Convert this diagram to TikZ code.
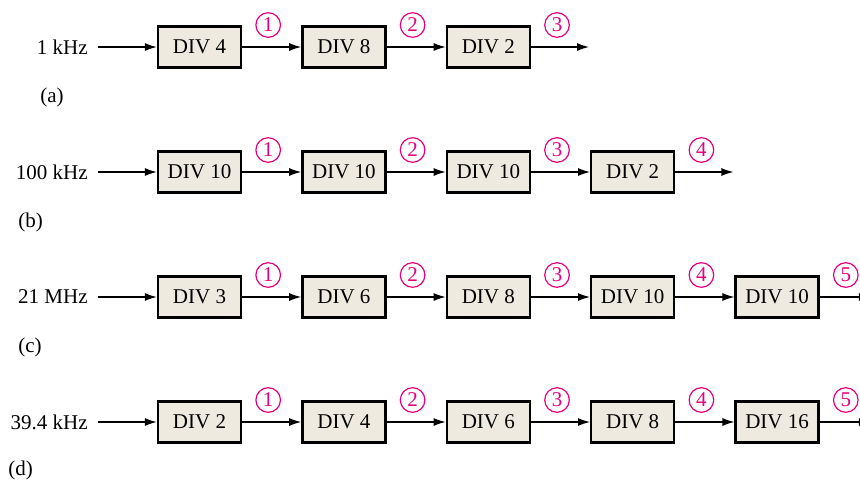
\documentclass[tikz,border=0pt]{standalone}
\usepackage{fontspec}
\setmainfont{Liberation Serif}
\usepackage{tikz}
\usetikzlibrary{arrows.meta, positioning}
\definecolor{boxfill}{RGB}{238,234,224}
\definecolor{nummag}{RGB}{230,0,126}

\begin{document}
\begin{tikzpicture}[
x=0.5pt, y=-0.5pt,
node distance=29.5pt,
font=\fontsize{10.5}{12}\selectfont,
divbox/.style={rectangle, draw, line width=1.2pt, fill=boxfill, minimum width=41.5pt, minimum height=20.5pt, inner sep=0pt},
freq/.style={anchor=east, inner sep=5pt},
partlabel/.style={anchor=west, inner sep=0pt},
num/.style={circle, draw=nummag, text=nummag, line width=0.6pt, minimum size=12.3pt, inner sep=0pt},
arrow/.style={-{Latex[length=6pt,width=4pt]}, line width=0.6pt}
]
\useasboundingbox (0,0) rectangle (860,483);
\clip (0,0) rectangle (860,483);

% (a)
\node[freq] (ina) at (98,47) {1 kHz};
\node[divbox] (a1) at (199.5,47) {DIV 4};
\node[divbox, right=of a1] (a2) {DIV 8};
\node[divbox, right=of a2] (a3) {DIV 2};
\coordinate (aend) at ([xshift=29pt]a3.east);
\node[num] (na1) at ([xshift=13pt,yshift=11pt]a1.east) {1};
\node[num] (na2) at ([xshift=13pt,yshift=11pt]a2.east) {2};
\node[num] (na3) at ([xshift=13pt,yshift=11pt]a3.east) {3};
\node[partlabel] (laba) at (40,97) {(a)};

% (b)
\node[freq] (inb) at (98,172) {100 kHz};
\node[divbox] (b1) at (199.5,172) {DIV 10};
\node[divbox, right=of b1] (b2) {DIV 10};
\node[divbox, right=of b2] (b3) {DIV 10};
\node[divbox, right=of b3] (b4) {DIV 2};
\coordinate (bend) at ([xshift=29pt]b4.east);
\node[num] (nb1) at ([xshift=13pt,yshift=11pt]b1.east) {1};
\node[num] (nb2) at ([xshift=13pt,yshift=11pt]b2.east) {2};
\node[num] (nb3) at ([xshift=13pt,yshift=11pt]b3.east) {3};
\node[num] (nb4) at ([xshift=13pt,yshift=11pt]b4.east) {4};
\node[partlabel] (labb) at (18,222) {(b)};

% (c)
\node[freq] (inc) at (98,297) {21 MHz};
\node[divbox] (c1) at (199.5,297) {DIV 3};
\node[divbox, right=of c1] (c2) {DIV 6};
\node[divbox, right=of c2] (c3) {DIV 8};
\node[divbox, right=of c3] (c4) {DIV 10};
\node[divbox, right=of c4] (c5) {DIV 10};
\coordinate (cend) at ([xshift=25.5pt]c5.east);
\node[num] (nc1) at ([xshift=13pt,yshift=11pt]c1.east) {1};
\node[num] (nc2) at ([xshift=13pt,yshift=11pt]c2.east) {2};
\node[num] (nc3) at ([xshift=13pt,yshift=11pt]c3.east) {3};
\node[num] (nc4) at ([xshift=13pt,yshift=11pt]c4.east) {4};
\node[num] (nc5) at ([xshift=13pt,yshift=11pt]c5.east) {5};
\node[partlabel] (labc) at (18,347) {(c)};

% (d)
\node[freq] (ind) at (98,422) {39.4 kHz};
\node[divbox] (d1) at (199.5,422) {DIV 2};
\node[divbox, right=of d1] (d2) {DIV 4};
\node[divbox, right=of d2] (d3) {DIV 6};
\node[divbox, right=of d3] (d4) {DIV 8};
\node[divbox, right=of d4] (d5) {DIV 16};
\coordinate (dend) at ([xshift=25.5pt]d5.east);
\node[num] (nd1) at ([xshift=13pt,yshift=11pt]d1.east) {1};
\node[num] (nd2) at ([xshift=13pt,yshift=11pt]d2.east) {2};
\node[num] (nd3) at ([xshift=13pt,yshift=11pt]d3.east) {3};
\node[num] (nd4) at ([xshift=13pt,yshift=11pt]d4.east) {4};
\node[num] (nd5) at ([xshift=13pt,yshift=11pt]d5.east) {5};
\node[partlabel] (labd) at (8,470) {(d)};

\draw[arrow] (ina) -- (a1);
\draw[arrow] (a1) -- (a2);
\draw[arrow] (a2) -- (a3);
\draw[arrow] (a3) -- (aend);

\draw[arrow] (inb) -- (b1);
\draw[arrow] (b1) -- (b2);
\draw[arrow] (b2) -- (b3);
\draw[arrow] (b3) -- (b4);
\draw[arrow] (b4) -- (bend);

\draw[arrow] (inc) -- (c1);
\draw[arrow] (c1) -- (c2);
\draw[arrow] (c2) -- (c3);
\draw[arrow] (c3) -- (c4);
\draw[arrow] (c4) -- (c5);
\draw[arrow] (c5) -- (cend);

\draw[arrow] (ind) -- (d1);
\draw[arrow] (d1) -- (d2);
\draw[arrow] (d2) -- (d3);
\draw[arrow] (d3) -- (d4);
\draw[arrow] (d4) -- (d5);
\draw[arrow] (d5) -- (dend);

\end{tikzpicture}
\end{document}
